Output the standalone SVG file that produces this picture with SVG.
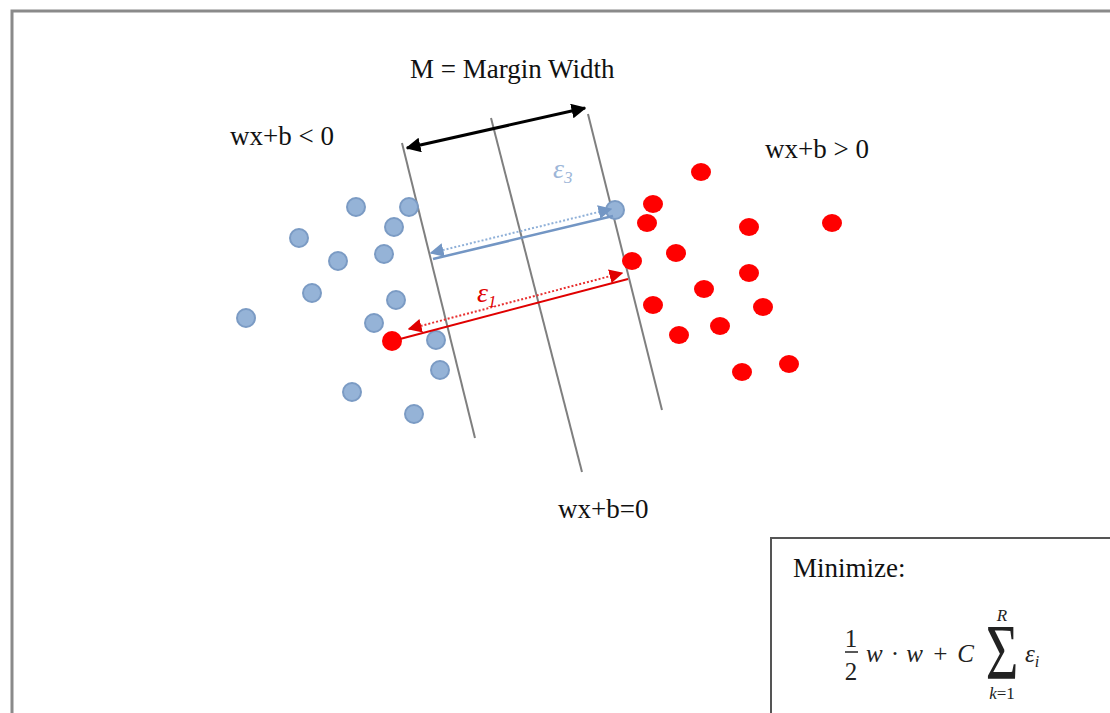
<svg xmlns="http://www.w3.org/2000/svg" width="1110" height="713" viewBox="0 0 1110 713">
<defs>
<style>
.t{font-family:"Liberation Serif","Times New Roman",serif;font-size:27px;fill:#111}
.m{font-family:"Liberation Serif","Times New Roman",serif;font-style:italic;fill:#222}
.u{font-family:"Liberation Serif","Times New Roman",serif;fill:#222}
.sep{stroke:#7f7f7f;stroke-width:2;fill:none}
.bp{fill:#95b3d7;stroke:#7b9bc4;stroke-width:2}
.rp{fill:#ff0000}
</style>
<marker id="ab" viewBox="0 0 10 10" refX="9" refY="5" markerWidth="5" markerHeight="5" orient="auto-start-reverse" markerUnits="strokeWidth"><path d="M0,0 L10,5 L0,10 z" fill="#000"/></marker>
<marker id="abl" viewBox="0 0 10 10" refX="9" refY="5" markerWidth="7" markerHeight="7" orient="auto-start-reverse" markerUnits="strokeWidth"><path d="M0,0 L10,5 L0,10 z" fill="#7396c4"/></marker>
<marker id="ar" viewBox="0 0 10 10" refX="9" refY="5" markerWidth="7" markerHeight="7" orient="auto-start-reverse" markerUnits="strokeWidth"><path d="M0,0 L10,5 L0,10 z" fill="#e00000"/></marker>
</defs>
<rect width="1110" height="713" fill="#fff"/>
<path d="M12,713 V11 H1110" fill="none" stroke="#8a8a8a" stroke-width="3"/>

<g id="margin-left"><line class="sep" x1="402" y1="143" x2="475" y2="438"/></g>
<g id="hyperplane"><line class="sep" x1="491" y1="118" x2="582" y2="472"/></g>
<g id="margin-right"><line class="sep" x1="588" y1="114" x2="662" y2="410"/></g>

<g id="blue-points">
<circle class="bp" cx="356" cy="207" r="9"/>
<circle class="bp" cx="409" cy="207" r="9"/>
<circle class="bp" cx="394" cy="227" r="9"/>
<circle class="bp" cx="299" cy="238" r="9"/>
<circle class="bp" cx="338" cy="261" r="9"/>
<circle class="bp" cx="384" cy="254" r="9"/>
<circle class="bp" cx="312" cy="293" r="9"/>
<circle class="bp" cx="396" cy="300" r="9"/>
<circle class="bp" cx="246" cy="318" r="9"/>
<circle class="bp" cx="374" cy="323" r="9"/>
<circle class="bp" cx="436" cy="340" r="9"/>
<circle class="bp" cx="440" cy="370" r="9"/>
<circle class="bp" cx="352" cy="392" r="9"/>
<circle class="bp" cx="414" cy="414" r="9"/>
<circle class="bp" cx="615" cy="210" r="9"/>
</g>

<g id="red-points">
<ellipse class="rp" cx="392" cy="341" rx="10" ry="10"/>
<ellipse class="rp" cx="701" cy="172" rx="10" ry="9"/>
<ellipse class="rp" cx="653" cy="204" rx="10" ry="9"/>
<ellipse class="rp" cx="647" cy="223" rx="10" ry="9"/>
<ellipse class="rp" cx="749" cy="227" rx="10" ry="9"/>
<ellipse class="rp" cx="832" cy="223" rx="10" ry="9"/>
<ellipse class="rp" cx="676" cy="253" rx="10" ry="9"/>
<ellipse class="rp" cx="632" cy="261" rx="10" ry="9"/>
<ellipse class="rp" cx="749" cy="273" rx="10" ry="9"/>
<ellipse class="rp" cx="704" cy="289" rx="10" ry="9"/>
<ellipse class="rp" cx="653" cy="305" rx="10" ry="9"/>
<ellipse class="rp" cx="763" cy="307" rx="10" ry="9"/>
<ellipse class="rp" cx="720" cy="326" rx="10" ry="9"/>
<ellipse class="rp" cx="679" cy="335" rx="10" ry="9"/>
<ellipse class="rp" cx="789" cy="364" rx="10" ry="9"/>
<ellipse class="rp" cx="742" cy="372" rx="10" ry="9"/>
</g>

<g id="connectors">
<line x1="407" y1="148" x2="585" y2="108" stroke="#000" stroke-width="3" marker-start="url(#ab)" marker-end="url(#ab)"/>
<line x1="431" y1="253" x2="611" y2="209" stroke="#8fb0d8" stroke-width="2" stroke-dasharray="2,2" marker-start="url(#abl)" marker-end="url(#abl)"/>
<line x1="433" y1="259" x2="613" y2="216" stroke="#7396c4" stroke-width="2.5"/>
<line x1="409" y1="329" x2="622" y2="273" stroke="#e83030" stroke-width="2" stroke-dasharray="2,2" marker-start="url(#ar)" marker-end="url(#ar)"/>
<line x1="400" y1="339" x2="628" y2="279" stroke="#e00000" stroke-width="2"/>
</g>

<g id="label-eps3"><text class="m" x="553" y="178" font-size="28" style="fill:#9db6d8">ε<tspan font-size="17" dy="5">3</tspan></text></g>
<g id="label-eps1"><text class="m" x="477" y="302" font-size="28" style="fill:#e00000">ε<tspan font-size="17" dy="5">1</tspan></text></g>

<g id="label-margin"><text class="t" x="410" y="78">M = Margin Width</text></g>
<g id="label-neg"><text class="t" x="230" y="145">wx+b &lt; 0</text></g>
<g id="label-pos"><text class="t" x="765" y="158">wx+b &gt; 0</text></g>
<g id="label-zero"><text class="t" x="558" y="518">wx+b=0</text></g>

<g id="objective-box">
<path d="M771,713 V538 H1110" fill="none" stroke="#555" stroke-width="2"/>
<text class="t" x="793" y="577">Minimize:</text>
<text class="u" x="851" y="647" font-size="25" text-anchor="middle">1</text>
<line x1="845" y1="652" x2="858" y2="652" stroke="#222" stroke-width="1.5"/>
<text class="u" x="851" y="680" font-size="25" text-anchor="middle">2</text>
<text class="m" x="866" y="662" font-size="25" textLength="108" lengthAdjust="spacing">w · w + C</text>
<text class="u" transform="translate(1002,678) scale(1,1.4)" x="0" y="0" font-size="56" text-anchor="middle">Σ</text>
<text class="m" x="1002" y="621" font-size="17" text-anchor="middle">R</text>
<text class="m" x="1002" y="699" font-size="17" text-anchor="middle">k<tspan style="font-style:normal">=1</tspan></text>
<text class="m" x="1025" y="662" font-size="25">ε<tspan font-size="16" dy="5">i</tspan></text>
</g>
</svg>
